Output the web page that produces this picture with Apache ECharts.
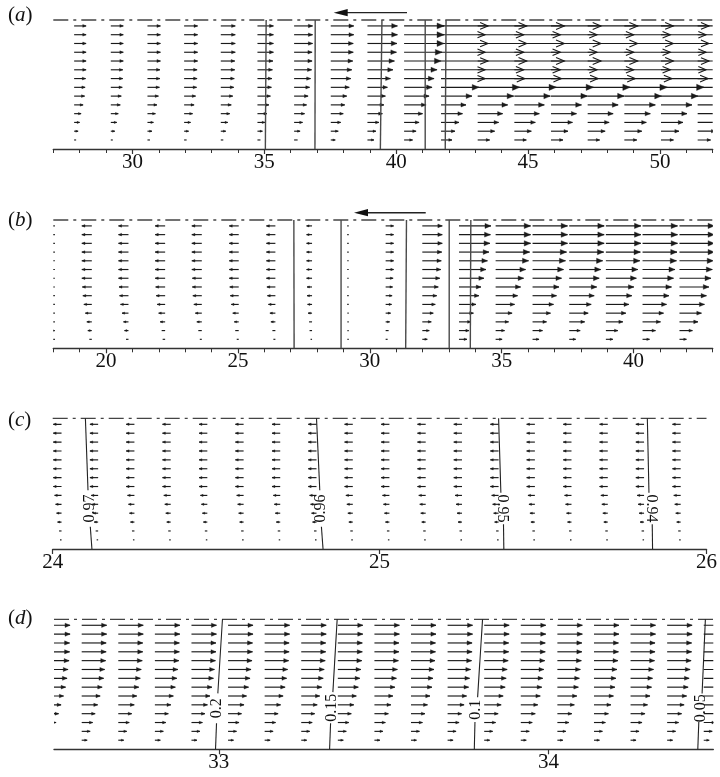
<!DOCTYPE html>
<html><head><meta charset="utf-8">
<script src="https://cdn.jsdelivr.net/npm/echarts@6/dist/echarts.min.js"></script>
<style>html,body{margin:0;padding:0;background:#fff}#c{width:720px;height:777px}</style>
</head><body><div id="c"></div>
<script>
// ---------------- DATA ----------------
// vertical positions of the vector rows (0 = bed, 1 = free surface), top to bottom
const ROWS_Y = [0.954, 0.886, 0.818, 0.750, 0.682, 0.614, 0.546, 0.478, 0.410, 0.342, 0.274, 0.206, 0.138, 0.070];

// panel (a)
const TICKS_A = [30, 35, 40, 45, 50];
const MINOR_A = [27, 28, 29, 31, 32, 33, 34, 36, 37, 38, 39, 41, 42, 43, 44, 46, 47, 48, 49, 51, 52];
const COLS_A = [27.79, 29.18, 30.57, 31.96, 33.35, 34.74, 36.13, 37.52, 38.91, 40.30, 41.70, 43.09, 44.48, 45.87, 47.26, 48.65, 50.04, 51.43];
const U_A = [
  [12, 12, 12, 12, 12, 12, 11.5, 11, 10.5, 9, 7, 5.5, 4, 2],
  [12.5, 12.5, 12.5, 12.5, 12.5, 12, 12, 11.5, 10.5, 9.5, 7.5, 6, 4, 2],
  [13, 13, 13, 13, 13, 12.5, 12.5, 12, 11, 9.5, 8, 6, 4.5, 2.5],
  [13.5, 13.5, 13.5, 13.5, 13.5, 13, 13, 12.5, 11.5, 10, 8.5, 6.5, 4.5, 2.5],
  [14.5, 14.5, 14.5, 14.5, 14, 14, 13.5, 13, 12, 10.5, 9, 7, 5, 2.5],
  [16, 16, 16, 16, 15.5, 15, 14.5, 14, 13, 11.5, 9.5, 7.5, 5, 3],
  [18.5, 18.5, 18.5, 18, 18, 17.5, 16.5, 15.5, 14, 12.5, 10.5, 8.5, 6, 3.5],
  [23, 23, 22.5, 22.5, 22, 21, 20, 18.5, 16, 14, 12.5, 10, 7.5, 4.5],
  [30, 30, 29.5, 29, 27, 25.5, 23, 20, 18, 16.5, 15, 11.5, 8.5, 6.5],
  [40, 40, 40, 38, 37, 33, 30, 28, 25, 22, 18.5, 15, 12, 8.5],
  [47, 44, 47, 44, 47, 44, 44, 38, 31, 25, 21.5, 18, 14, 11],
  [49, 46, 49, 46, 49, 46, 47, 42, 36, 30, 25, 21, 17, 12],
  [50, 46, 50, 46, 50, 46, 47, 42, 36, 30, 25, 21, 17, 12],
  [50, 46, 50, 46, 50, 46, 47, 42.5, 36.5, 30.5, 25.5, 21.5, 17, 12],
  [50, 46, 50, 46, 50, 46, 47.5, 42.5, 36.5, 30.5, 25.5, 21.5, 17.5, 12],
  [49, 46, 49, 46, 49, 46, 47.5, 43, 37, 31, 26, 22, 17.5, 12.5],
  [48, 45, 48, 45, 48, 45, 47, 43, 37, 31, 26, 22, 18, 12.5],
  [48, 45, 48, 45, 48, 45, 47, 43, 37, 31, 26, 22, 18, 13]
];
const CONTOURS_A = [
  [[35.07, 1], [35.04, 0]],
  [[36.93, 1], [36.92, 0]],
  [[39.46, 1], [39.40, 0]],
  [[41.10, 1], [41.10, 0]],
  [[41.89, 1], [41.86, 0]]
];
const WAVE_ARROW_A = [40.41, 37.63, 1.057]; // tail x, head x, y

// panel (b)
const TICKS_B = [20, 25, 30, 35, 40];
const MINOR_B = [18, 19, 21, 22, 23, 24, 26, 27, 28, 29, 31, 32, 33, 34, 36, 37, 38, 39, 41, 42, 43];
const COLS_B = [18.06, 19.46, 20.85, 22.24, 23.63, 25.03, 26.42, 27.81, 29.20, 30.60, 31.99, 33.38, 34.77, 36.17, 37.56, 38.95, 40.34, 41.74];
const U_B = [
  [-10, -10, -10, -10, -10, -10, -10, -9.5, -9, -8, -6.5, -5, -4, -2.5],
  [-10, -10, -10, -10, -10, -10, -10, -9.5, -9, -8, -6.5, -5, -4, -2.5],
  [-10, -10, -10, -10, -10, -10, -10, -9.5, -9, -8, -6.5, -5, -4, -2.5],
  [-10, -10, -10, -10, -10, -10, -10, -9.5, -9, -8, -6.5, -5, -3.5, -2.5],
  [-10, -10, -10, -10, -10, -10, -9.5, -9.5, -9, -8, -6.5, -5, -3.5, -2],
  [-9.5, -9.5, -9.5, -9.5, -9.5, -9.5, -9.5, -9, -8.5, -7.5, -6, -4.5, -3.5, -2],
  [-9, -9, -9, -9, -9, -9, -9, -8.5, -8, -7, -5.5, -4.5, -3, -2],
  [-5.5, -5.5, -5.5, -5.5, -5.5, -5.5, -5.5, -5, -5, -4.5, -4, -3, -2.5, -1.5],
  [-1.5, -1.5, -1.5, -1.5, -1.5, -1.5, -1.5, -1.5, -1.5, -1.5, -1.2, -1.2, -1.2, -1.2],
  [8, 8, 8, 8, 8, 8, 7.5, 7, 6.5, 6, 5, 4, 3, 2],
  [20, 20, 20, 19.5, 19, 18.5, 17.5, 16, 14.5, 13, 11, 9, 7, 5],
  [32, 31.5, 31, 30, 28.5, 27, 25, 22, 20, 17, 14.5, 12, 10, 8],
  [35, 35, 35, 34, 33, 30, 28, 25, 22, 19, 16.5, 13, 9, 6.5],
  [35, 35, 35, 34, 33, 31, 29, 26.5, 24, 21, 18, 14, 10, 6.5],
  [35, 35, 35, 34.5, 33.5, 31.5, 30, 27.5, 25, 22, 19, 15.5, 11, 6.5],
  [35, 35, 35, 34.5, 34, 32, 30.5, 28, 26, 23, 20, 17, 12, 7],
  [35, 35, 35, 34.5, 34, 32.5, 31, 29, 26.5, 24, 21, 18, 13, 7],
  [35, 35, 35, 35, 34, 33, 31.5, 29.5, 27, 25, 22, 18.5, 13, 7]
];
const CONTOURS_B = [
  [[27.12, 1], [27.13, 0]],
  [[28.91, 1], [28.91, 0]],
  [[31.39, 1], [31.36, 0]],
  [[33.01, 1], [33.01, 0]],
  [[33.83, 1], [33.81, 0]]
];
const WAVE_ARROW_B = [32.12, 29.40, 1.057];

// panel (c)
const TICKS_C = [24, 25, 26];
const COLS_C = [24.027, 24.139, 24.250, 24.361, 24.473, 24.584, 24.696, 24.807, 24.918, 25.030, 25.141, 25.252, 25.364, 25.475, 25.587, 25.698, 25.809, 25.921];
const U_C = [
  [-8.3, -8.3, -8.3, -8.3, -8.3, -8.3, -8.3, -8.3, -7, -6, -5, -4, -2.5, -1.5],
  [-8.3, -8.3, -8.3, -8.3, -8.3, -8.3, -8.3, -8.3, -7, -6, -5, -4, -2.5, -1.5],
  [-8.3, -8.3, -8.3, -8.3, -8.3, -8.3, -8.3, -8.3, -7, -6, -5, -4, -2.5, -1.5],
  [-8.3, -8.3, -8.3, -8.3, -8.3, -8.3, -8.3, -8.3, -7, -6, -5, -4, -2.5, -1.5],
  [-8.3, -8.3, -8.3, -8.3, -8.3, -8.3, -8.3, -8.3, -7, -6, -5, -4, -2.5, -1.5],
  [-8.3, -8.3, -8.3, -8.3, -8.3, -8.3, -8.3, -8.3, -7, -6, -5, -4, -2.5, -1.5],
  [-8.3, -8.3, -8.3, -8.3, -8.3, -8.3, -8.3, -8.3, -7, -6, -5, -4, -2.5, -1.5],
  [-8.3, -8.3, -8.3, -8.3, -8.3, -8.3, -8.3, -8.3, -7, -6, -5, -4, -2.5, -1.5],
  [-8.3, -8.3, -8.3, -8.3, -8.3, -8.3, -8.3, -8.3, -7, -6, -5, -4, -2.5, -1.5],
  [-8.3, -8.3, -8.3, -8.3, -8.3, -8.3, -8.3, -8.3, -7, -6, -5, -4, -2.5, -1.5],
  [-8.3, -8.3, -8.3, -8.3, -8.3, -8.3, -8.3, -8.3, -7, -6, -5, -4, -2.5, -1.5],
  [-8.3, -8.3, -8.3, -8.3, -8.3, -8.3, -8.3, -8.3, -7, -6, -5, -4, -2.5, -1.5],
  [-8.3, -8.3, -8.3, -8.3, -8.3, -8.3, -8.3, -8.3, -7, -6, -5, -4, -2.5, -1.5],
  [-8.3, -8.3, -8.3, -8.3, -8.3, -8.3, -8.3, -8.3, -7, -6, -5, -4, -2.5, -1.5],
  [-8.3, -8.3, -8.3, -8.3, -8.3, -8.3, -8.3, -8.3, -7, -6, -5, -4, -2.5, -1.5],
  [-8.3, -8.3, -8.3, -8.3, -8.3, -8.3, -8.3, -8.3, -7, -6, -5, -4, -2.5, -1.5],
  [-8.3, -8.3, -8.3, -8.3, -8.3, -8.3, -8.3, -8.3, -7, -6, -5, -4, -2.5, -1.5],
  [-8.3, -8.3, -8.3, -8.3, -8.3, -8.3, -8.3, -8.3, -7, -6, -5, -4, -2.5, -1.5]
];
const CONTOURS_C = [
  [[24.100, 1], [24.108, 0.45]], [[24.115, 0.17], [24.120, 0]],
  [[24.807, 1], [24.817, 0.45]], [[24.822, 0.17], [24.827, 0]],
  [[25.364, 1], [25.371, 0.43]], [[25.379, 0.19], [25.380, 0]],
  [[25.819, 1], [25.824, 0.43]], [[25.834, 0.19], [25.835, 0]]
];
const LABELS_C = [[24.112, 0.31, '0.97'], [24.819, 0.31, '0.96'], [25.376, 0.31, '0.95'], [25.831, 0.31, '0.94']];

// panel (d)
const TICKS_D = [33, 34];
const COLS_D = [32.473, 32.584, 32.695, 32.806, 32.917, 33.028, 33.139, 33.250, 33.361, 33.472, 33.583, 33.694, 33.805, 33.916, 34.027, 34.138, 34.249, 34.360, 34.471];
const U_D = [
  [25, 25, 24.5, 24.5, 24, 23, 22, 20.5, 18.5, 16, 13.5, 11, 8.5, 5.5],
  [25, 25, 24.5, 24.5, 24, 23, 22, 20.5, 18.5, 16, 13.5, 11, 8.5, 5.5],
  [25, 25, 24.5, 24.5, 24, 23, 22, 20.5, 18.5, 16, 13.5, 11, 8.5, 5.5],
  [25, 25, 24.5, 24.5, 24, 23, 22, 20.5, 18.5, 16, 13.5, 11, 8.5, 5.5],
  [25, 25, 24.5, 24.5, 24, 23, 22, 20.5, 18.5, 16, 13.5, 11, 8.5, 5.5],
  [25, 25, 24.5, 24.5, 24, 23, 22, 20.5, 18.5, 16, 13.5, 11, 8.5, 5.5],
  [25, 25, 24.5, 24.5, 24, 23, 22, 20.5, 18.5, 16, 13.5, 11, 8.5, 5.5],
  [25, 25, 24.5, 24.5, 24, 23, 22, 20.5, 18.5, 16, 13.5, 11, 8.5, 5.5],
  [25, 25, 24.5, 24.5, 24, 23, 22, 20.5, 18.5, 16, 13.5, 11, 8.5, 5.5],
  [25, 25, 24.5, 24.5, 24, 23, 22, 20.5, 18.5, 16.5, 14, 11, 8.5, 5.5],
  [25, 25, 24.5, 24.5, 24, 23, 22, 21, 19, 16.5, 14, 11.5, 8.5, 5.5],
  [25, 25, 24.5, 24.5, 24, 23, 22, 21, 19, 16.5, 14, 11.5, 8.5, 5.5],
  [25, 25, 24.5, 24.5, 24, 23, 22, 21, 19, 17, 14, 11.5, 8.5, 5.5],
  [25, 25, 24.5, 24.5, 24, 23, 22, 21, 19.5, 17, 14.5, 11.5, 8.5, 5.5],
  [25, 25, 24.5, 24.5, 24, 23, 22, 21, 19.5, 17, 14.5, 11.5, 8.5, 5.5],
  [25, 25, 24.5, 24.5, 24, 23, 22, 21, 19.5, 17, 14.5, 11.5, 8.5, 5.5],
  [25, 25, 24.5, 24.5, 24, 23, 22, 21, 19.5, 17, 14.5, 11.5, 8.5, 5.5],
  [25, 25, 24.5, 24.5, 24, 23, 22, 21, 19.5, 17, 14.5, 11.5, 8.5, 5.5],
  [25, 25, 24.5, 24.5, 24, 23, 22, 21, 19.5, 17, 14.5, 11.5, 8.5, 5.5]
];
const CONTOURS_D = [
  [[33.011, 1], [32.997, 0.43]], [[32.993, 0.20], [32.990, 0]],
  [[33.359, 1], [33.346, 0.44]], [[33.339, 0.20], [33.336, 0]],
  [[33.800, 1], [33.785, 0.40]], [[33.777, 0.21], [33.775, 0]],
  [[34.476, 1], [34.466, 0.43]], [[34.456, 0.21], [34.453, 0]]
];
const LABELS_D = [[32.995, 0.315, '0.2'], [33.343, 0.32, '0.15'], [33.781, 0.305, '0.1'], [34.461, 0.315, '0.05']];

// quiver scale: x-axis units per velocity unit
const SCALE_A = 0.0379, SCALE_B = 0.0379, SCALE_C = 0.003038, SCALE_D = 0.003033;

// ---------------- STYLE / LAYOUT ----------------
const SERIF = 'Liberation Serif';
const LABEL_ROT_C = [1, 1, -1, -1];
const LABEL_ROT_D = [1, 1, 1, 1];

const PANELS = [
  {tag: 'a', grid: {left: 53.3, top: 20, width: 659.4, height: 129}, min: 27, max: 52, ticks: TICKS_A, minor: MINOR_A,
   cols: COLS_A, u: U_A, scale: SCALE_A, contours: CONTOURS_A, cColor: '#4a4a4a', cWidth: 1.4, labels: [], rot: [], wave: WAVE_ARROW_A, tagY: 15},
  {tag: 'b', grid: {left: 53.3, top: 220, width: 659.4, height: 128.3}, min: 18, max: 43, ticks: TICKS_B, minor: MINOR_B,
   cols: COLS_B, u: U_B, scale: SCALE_B, contours: CONTOURS_B, cColor: '#4a4a4a', cWidth: 1.4, labels: [], rot: [], wave: WAVE_ARROW_B, tagY: 220},
  {tag: 'c', grid: {left: 52.7, top: 418.3, width: 658.3, height: 130.7}, min: 24, max: 26, ticks: TICKS_C, minor: [],
   cols: COLS_C, u: U_C, scale: SCALE_C, contours: CONTOURS_C, cColor: '#222', cWidth: 1.1, labels: LABELS_C, rot: LABEL_ROT_C, wave: null, tagY: 420},
  {tag: 'd', grid: {left: 54, top: 619.3, width: 659.3, height: 130}, min: 32.5, max: 34.5, ticks: TICKS_D, minor: [],
   cols: COLS_D, u: U_D, scale: SCALE_D, contours: CONTOURS_D, cColor: '#222', cWidth: 1.1, labels: LABELS_D, rot: LABEL_ROT_D, wave: null, tagY: 618}
];

const INK = '#1a1a1a';

function arrowRender(scale) {
  return function (params, api) {
    const x = api.value(0), y = api.value(1), u = api.value(2);
    const p0 = api.coord([x, y]);
    const p1r = api.coord([x + u * scale, y]);
    const dx = p1r[0] - p0[0];
    const dir = dx >= 0 ? 1 : -1;
    const L = Math.max(Math.abs(dx), 1.3);
    const tip = [p0[0] + dir * L, p0[1]];
    const children = [{type: 'line', shape: {x1: p0[0], y1: p0[1], x2: tip[0], y2: tip[1]}, style: {stroke: INK, lineWidth: 1.15}}];
    if (L >= 3.5) {
      const hl = 0.13 * L + 1.8;
      const hw = hl * 0.42;
      const bx = tip[0] - dir * hl;
      if (hl > 7.5) {
        children.push({type: 'polyline', shape: {points: [[bx, tip[1] - hw], tip, [bx, tip[1] + hw]]}, style: {stroke: INK, lineWidth: 1.1, fill: 'none'}});
      } else {
        children.push({type: 'polygon', shape: {points: [tip, [bx, tip[1] - hw], [bx, tip[1] + hw]]}, style: {fill: INK, stroke: INK, lineWidth: 0.4}});
      }
    }
    const cs = params.coordSys;
    const g = {type: 'group', children: children};
    const lo = Math.min(p0[0], tip[0]) - 5, hi = Math.max(p0[0], tip[0]) + 5;
    if (lo < cs.x || hi > cs.x + cs.width) {
      g.clipPath = {type: 'rect', shape: {x: cs.x, y: cs.y - 10, width: cs.width, height: cs.height + 20}};
    }
    return g;
  };
}

const grids = [], xAxes = [], yAxes = [], series = [], graphics = [];
PANELS.forEach((p, k) => {
  grids.push(p.grid);
  xAxes.push({
    type: 'value', gridIndex: k, min: p.min, max: p.max, position: 'bottom',
    axisLine: {show: true, onZero: false, lineStyle: {color: '#333', width: 1.4}},
    axisTick: {show: true, length: 5, customValues: p.ticks, lineStyle: {color: '#333', width: 1.2}},
    axisLabel: {show: true, customValues: p.ticks, margin: 3, fontFamily: SERIF, fontSize: 21, color: '#111'},
    splitLine: {show: false}
  });
  xAxes.push({
    type: 'value', gridIndex: k, min: p.min, max: p.max, position: 'bottom',
    axisLine: {show: false},
    axisTick: {show: p.minor.length > 0, length: 4, customValues: p.minor.length ? p.minor : [p.min], lineStyle: {color: '#333', width: 1}},
    axisLabel: {show: false}, splitLine: {show: false}
  });
  yAxes.push({type: 'value', gridIndex: k, min: 0, max: 1, show: false});

  const xi = 2 * k, yi = k;
  // free surface (dash-dot)
  series.push({type: 'line', xAxisIndex: xi, yAxisIndex: yi, data: [[p.min, 1], [p.max, 1]], symbol: 'none', clip: false, silent: true,
    lineStyle: {color: '#444', width: 1.3, type: [15, 5, 3, 5]}});
  // vectors
  const data = [];
  p.cols.forEach((cx, i) => ROWS_Y.forEach((ry, j) => data.push([cx, ry, p.u[i][j]])));
  series.push({type: 'custom', xAxisIndex: xi, yAxisIndex: yi, data: data, renderItem: arrowRender(p.scale), silent: true, clip: false});
  // contours
  p.contours.forEach(seg => series.push({type: 'line', xAxisIndex: xi, yAxisIndex: yi, data: seg, symbol: 'none', clip: false, silent: true,
    lineStyle: {color: p.cColor, width: p.cWidth}}));
  // contour labels
  if (p.labels.length) {
    const labs = p.labels, rots = p.rot;
    series.push({type: 'custom', xAxisIndex: xi, yAxisIndex: yi, clip: false, silent: true,
      data: labs.map(l => [l[0], l[1]]),
      renderItem: (params, api) => {
        const pt = api.coord([api.value(0), api.value(1)]);
        const idx = params.dataIndex;
        return {type: 'text', x: pt[0], y: pt[1], rotation: rots[idx] * Math.PI / 2,
          style: {text: labs[idx][2], fontFamily: SERIF, fontSize: 16, fill: '#111', align: 'center', verticalAlign: 'middle'}};
      }});
  }
  // wave direction arrow
  if (p.wave) {
    const w = p.wave;
    series.push({type: 'custom', xAxisIndex: xi, yAxisIndex: yi, clip: false, silent: true, data: [[w[0], w[2], w[1]]],
      renderItem: (params, api) => {
        const a = api.coord([api.value(0), api.value(1)]);
        const b = api.coord([api.value(2), api.value(1)]);
        const hl = 14, hw = 3.6;
        return {type: 'group', children: [
          {type: 'line', shape: {x1: a[0], y1: a[1], x2: b[0] + hl - 2, y2: b[1]}, style: {stroke: '#222', lineWidth: 1.4}},
          {type: 'polygon', shape: {points: [b, [b[0] + hl, b[1] - hw], [b[0] + hl, b[1] + hw]]}, style: {fill: '#111'}}
        ]};
      }});
  }
  graphics.push({type: 'text', x: 8, y: p.tagY, style: {
    text: '{p|(}{i|' + p.tag + '}{p|)}', verticalAlign: 'middle', align: 'left',
    rich: {p: {fontFamily: SERIF, fontSize: 21, fill: '#111'}, i: {fontFamily: SERIF, fontSize: 21, fontStyle: 'italic', fill: '#111'}}
  }});
});

const chart = echarts.init(document.getElementById('c'));
chart.setOption({
  animation: false,
  backgroundColor: '#fff',
  grid: grids, xAxis: xAxes, yAxis: yAxes, series: series, graphic: graphics
});
</script>
</body></html>
